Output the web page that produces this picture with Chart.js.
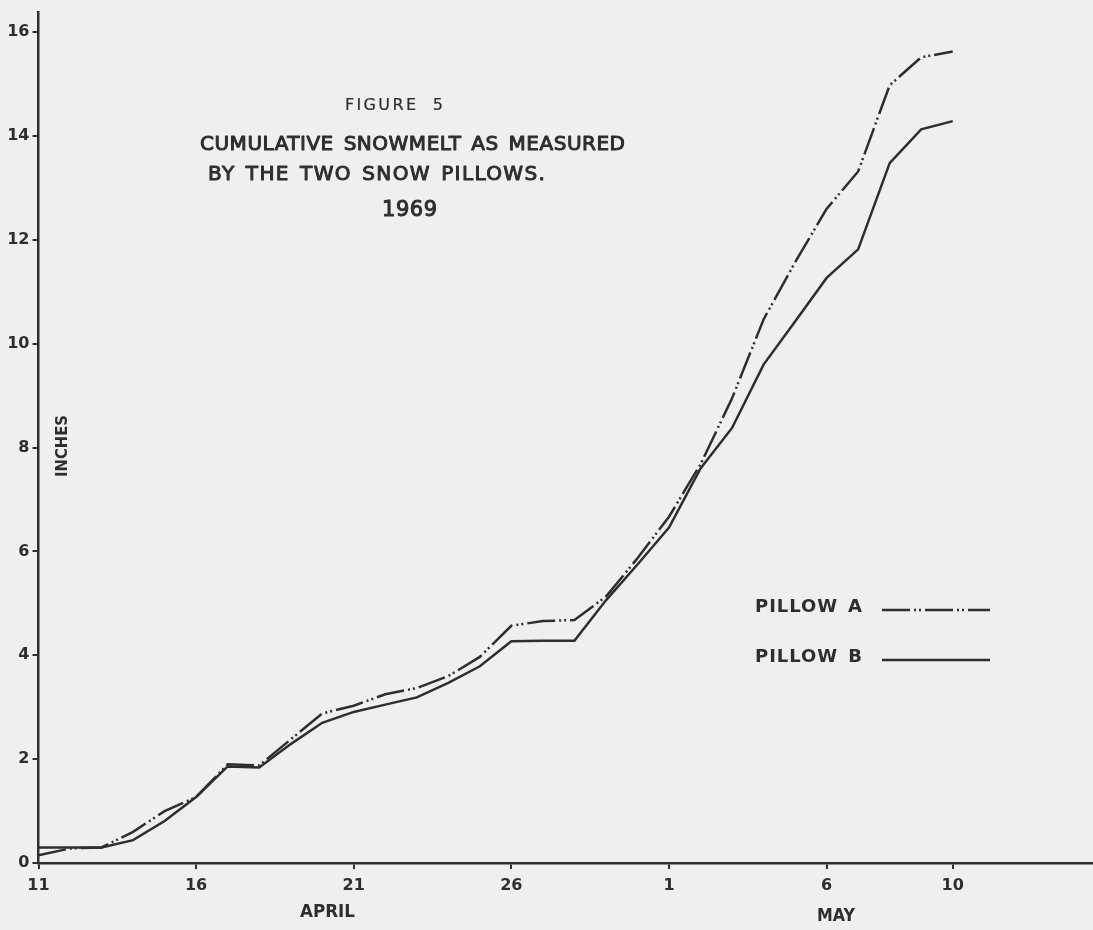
<!DOCTYPE html>
<html lang="en">
<head>
<meta charset="UTF-8">
<title>Figure 5 - Cumulative snowmelt, 1969</title>
<script src="https://cdn.jsdelivr.net/npm/chart.js@4.4.1/dist/chart.umd.min.js"></script>
<style>
  html, body { margin: 0; padding: 0; background: #efefef; }
  #wrap { width: 1093px; height: 930px; }
</style>
</head>
<body>
<div id="wrap"><canvas id="snow" width="1093" height="930"></canvas></div>
<script>
// days counted from April 11, 1969
const days = [0,1,2,3,4,5,6,7,8,9,10,11,12,13,14,15,16,17,18,19,20,21,22,23,24,25,26,27,28,29];
const dates = ['Apr 11','Apr 12','Apr 13','Apr 14','Apr 15','Apr 16','Apr 17','Apr 18','Apr 19','Apr 20',
               'Apr 21','Apr 22','Apr 23','Apr 24','Apr 25','Apr 26','Apr 27','Apr 28','Apr 29','Apr 30',
               'May 1','May 2','May 3','May 4','May 5','May 6','May 7','May 8','May 9','May 10'];
// cumulative snowmelt, inches
const pillowA = [0.15,0.28,0.30,0.60,1.00,1.27,1.90,1.88,2.38,2.88,
                 3.03,3.25,3.37,3.60,3.97,4.57,4.66,4.68,5.13,5.87,
                 6.67,7.68,8.95,10.47,11.57,12.60,13.32,14.98,15.52,15.63];
const pillowB = [0.30,0.30,0.30,0.44,0.81,1.27,1.86,1.84,2.29,2.70,
                 2.91,3.05,3.19,3.47,3.79,4.27,4.28,4.28,5.06,5.75,
                 6.46,7.60,8.38,9.60,10.43,11.27,11.82,13.48,14.13,14.29];
const tickDays = [0,5,10,15,20,25,29];
const tickLabels = ['11','16','21','26','1','6','10'];
const inchTicks = [0,2,4,6,8,10,12,14,16];

const ink = '#2e2e2e';
const dashA = [28, 4, 2, 3, 2, 4];
const face = 'DejaVu Sans';

function pts(vals) {
  return days.map((d, i) => ({ x: d, y: vals[i] }));
}

// one line of stencil-like lettering fitted to a width, centred on midY.
// half the spare room goes between letters, half into the word gaps
function letter(ctx, str, left, midY, width, size, weight, pen) {
  ctx.save();
  ctx.font = (weight || 'normal') + ' ' + size + 'px "' + face + '"';
  ctx.textAlign = 'left';
  ctx.textBaseline = 'alphabetic';
  const base = midY + size * 0.365;
  const words = str.split(' ');
  const ws = words.map(s => ctx.measureText(s).width);
  const space = ctx.measureText(' ').width;
  const natural = ws.reduce((a, b) => a + b, 0) + space * (words.length - 1);
  const inner = words.reduce((a, s) => a + s.length - 1, 0);
  let spare = width - natural;
  let sx = 1;
  if (spare < 0) { sx = width / natural; spare = 0; }
  const share = words.length > 1 ? 0.5 : 1;
  const ls = inner > 0 ? spare * share / inner : 0;
  const gap = words.length > 1 ? space + spare * (1 - share) / (words.length - 1) : 0;
  ctx.translate(left, base);
  ctx.scale(sx, 1);
  ctx.letterSpacing = ls.toFixed(2) + 'px';
  let x = 0;
  words.forEach((s, i) => {
    ctx.fillText(s, x, 0);
    if (pen) {
      ctx.strokeStyle = ctx.fillStyle;
      ctx.lineWidth = pen;
      ctx.lineJoin = 'round';
      ctx.strokeText(s, x, 0);
    }
    x += ws[i] + ls * (s.length - 1) + gap;
  });
  ctx.restore();
}

const lettering = {
  id: 'lettering',
  afterDraw(chart) {
    const ctx = chart.ctx;
    ctx.fillStyle = ink;
    letter(ctx, 'FIGURE 5', 345, 104, 98, 16, 'normal', 0.2);
    letter(ctx, 'CUMULATIVE SNOWMELT AS MEASURED', 200, 143, 425, 20, 'normal', 1);
    letter(ctx, 'BY THE TWO SNOW PILLOWS.', 208, 173, 337, 20, 'normal', 1);
    letter(ctx, '1969', 382, 208, 55, 21, 'normal', 1);

    // month names under the day ticks
    letter(ctx, 'APRIL', 300, 911, 55, 17, 'bold');
    letter(ctx, 'MAY', 817, 915, 38, 17, 'bold');

    // y axis name, reading upwards
    ctx.save();
    ctx.translate(62, 446);
    ctx.rotate(-Math.PI / 2);
    letter(ctx, 'INCHES', -31, 0, 62, 15, 'bold');
    ctx.restore();

    // key
    const keys = [
      { name: 'PILLOW A', y: 605, ds: chart.data.datasets[0] },
      { name: 'PILLOW B', y: 655, ds: chart.data.datasets[1] }
    ];
    keys.forEach(k => {
      letter(ctx, k.name, 755, k.y, 107, 18, 'bold');
      ctx.save();
      ctx.strokeStyle = k.ds.borderColor;
      ctx.lineWidth = k.ds.borderWidth;
      ctx.setLineDash(k.ds.borderDash || []);
      ctx.beginPath();
      ctx.moveTo(882, k.y + 5);
      ctx.lineTo(990, k.y + 5);
      ctx.stroke();
      ctx.restore();
    });
  }
};

new Chart(document.getElementById('snow'), {
  type: 'line',
  data: {
    datasets: [{
      label: 'PILLOW A',
      data: pts(pillowA),
      borderColor: ink,
      borderWidth: 2.5,
      borderDash: dashA,
      pointRadius: 0,
      tension: 0
    }, {
      label: 'PILLOW B',
      data: pts(pillowB),
      borderColor: ink,
      borderWidth: 2.5,
      pointRadius: 0,
      tension: 0
    }]
  },
  options: {
    responsive: false,
    animation: false,
    events: [],
    layout: { padding: { top: 8, right: 0, left: 0, bottom: 0 } },
    plugins: { legend: { display: false }, tooltip: { enabled: false } },
    scales: {
      x: {
        type: 'linear',
        min: 0,
        max: 33.45,
        border: { color: ink, width: 2.5 },
        grid: { drawOnChartArea: false, tickLength: 6, color: ink, lineWidth: 2 },
        ticks: {
          autoSkip: false,
          maxRotation: 0,
          padding: 7,
          color: ink,
          font: { family: face, size: 16, weight: 'bold' },
          callback: v => tickLabels[tickDays.indexOf(v)]
        },
        afterBuildTicks: s => { s.ticks = tickDays.map(v => ({ value: v })); },
        afterFit: s => { s.height = 67; }
      },
      y: {
        type: 'linear',
        min: 0,
        max: 16.38,
        border: { color: ink, width: 2.5 },
        grid: { drawOnChartArea: false, tickLength: 6, color: ink, lineWidth: 2 },
        ticks: {
          padding: 3,
          color: ink,
          font: { family: face, size: 16, weight: 'bold' }
        },
        afterBuildTicks: s => { s.ticks = inchTicks.map(v => ({ value: v })); },
        afterFit: s => { s.width = 38.5; }
      }
    }
  },
  plugins: [lettering]
});
</script>
</body>
</html>
